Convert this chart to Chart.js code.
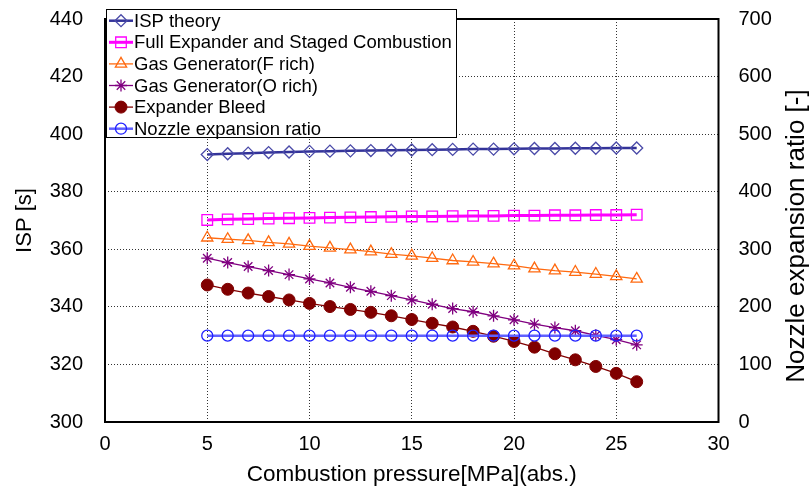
<!DOCTYPE html>
<html>
<head>
<meta charset="utf-8">
<script src="https://cdn.jsdelivr.net/npm/chart.js@4/dist/chart.umd.min.js"></script>
<style>
  html, body { margin: 0; padding: 0; background: #fff; }
  #wrap { width: 811px; height: 493px; }
</style>
</head>
<body>
<div id="wrap"><canvas id="myChart"></canvas></div>
<script>
// combustion pressure [MPa]
var pressure = [5, 6, 7, 8, 9, 10, 11, 12, 13, 14, 15, 16, 17, 18, 19, 20, 21, 22, 23, 24, 25, 26];

// ISP [s]
var ispTheory = [392.9, 393.2, 393.4, 393.6, 393.8, 394.0, 394.1, 394.2, 394.3, 394.4, 394.5,
                 394.6, 394.7, 394.8, 394.8, 394.9, 395.0, 395.0, 395.1, 395.1, 395.2, 395.2];
var fullExpander = [370.2, 370.4, 370.5, 370.7, 370.8, 370.9, 371.0, 371.1, 371.2, 371.3, 371.4,
                    371.4, 371.5, 371.6, 371.6, 371.7, 371.7, 371.8, 371.8, 371.9, 371.9, 372.0];
var gasGenF = [364.0, 363.5, 363.1, 362.4, 361.9, 361.1, 360.5, 359.9, 359.2, 358.3, 357.7,
               356.9, 356.1, 355.6, 355.0, 354.3, 353.3, 352.6, 352.1, 351.4, 350.6, 349.7];
var gasGenO = [356.9, 355.4, 354.0, 352.6, 351.2, 349.7, 348.3, 346.8, 345.4, 343.9, 342.4,
               340.9, 339.4, 338.3, 336.9, 335.5, 334.0, 332.8, 331.7, 330.1, 328.6, 326.8];
var expanderBleed = [347.6, 346.1, 344.8, 343.6, 342.4, 341.2, 340.1, 339.1, 338.1, 336.9, 335.6,
                     334.3, 333.0, 331.5, 329.8, 328.0, 326.0, 323.7, 321.6, 319.3, 316.9, 314.0];
// nozzle expansion ratio [-] (right axis)
var nozzleRatio = [150, 150, 150, 150, 150, 150, 150, 150, 150, 150, 150,
                   150, 150, 150, 150, 150, 150, 150, 150, 150, 150, 150];

var xTicks = [0, 5, 10, 15, 20, 25, 30];
var yTicks = [300, 320, 340, 360, 380, 400, 420, 440];
var y2Ticks = [0, 100, 200, 300, 400, 500, 600, 700];

function pts(ys) {
  return pressure.map(function (x, i) { return { x: x, y: ys[i] }; });
}

var sans = "'Liberation Sans', Arial, sans-serif";
var tickFont = { family: sans, size: 20 };
var PLOT_TOP = 19;

// pull the plot top up to where the original has it
var fixTop = {
  id: 'fixTop',
  afterLayout: function (chart) {
    var a = chart.chartArea;
    a.top = PLOT_TOP;
    a.height = a.bottom - a.top;
    ['y', 'y2'].forEach(function (id) {
      var s = chart.scales[id];
      s.top = PLOT_TOP;
      s.height = s.bottom - s.top;
      s.configure();
    });
  }
};

// legend drawn inside the plot, like the original
var boxLegend = {
  id: 'boxLegend',
  afterDraw: function (chart) {
    var ctx = chart.ctx;
    var x0 = 106, y0 = 9, w = 350, h = 128;
    ctx.save();
    ctx.fillStyle = '#fff';
    ctx.fillRect(x0, y0, w, h);
    ctx.strokeStyle = '#000';
    ctx.lineWidth = 1;
    ctx.strokeRect(x0 + 0.5, y0 + 0.5, w, h);
    ctx.font = "18.5px " + sans;
    ctx.textBaseline = 'middle';
    chart.data.datasets.forEach(function (ds, i) {
      var y = 20.7 + i * 21.6;
      ctx.strokeStyle = ds.borderColor;
      ctx.lineWidth = ds.borderWidth;
      ctx.beginPath();
      ctx.moveTo(109, y);
      ctx.lineTo(133, y);
      ctx.stroke();
      ctx.strokeStyle = ds.pointBorderColor;
      ctx.fillStyle = ds.pointBackgroundColor;
      ctx.lineWidth = ds.pointBorderWidth;
      Chart.helpers.drawPoint(ctx, { pointStyle: ds.pointStyle, radius: ds.pointRadius, borderWidth: ds.pointBorderWidth, rotation: 0 }, 121, y);
      ctx.fillStyle = '#000';
      ctx.fillText(ds.label, 134, y + 1);
    });

    // right axis title reads bottom to top
    ctx.save();
    ctx.translate(797, 236);
    ctx.rotate(-Math.PI / 2);
    ctx.font = "26px " + sans;
    ctx.textAlign = 'center';
    ctx.textBaseline = 'middle';
    ctx.fillStyle = '#000';
    ctx.fillText('Nozzle expansion ratio [-]', 0, 0);
    ctx.restore();
    ctx.restore();
  }
};

// black frame round the plot area
var frame = {
  id: 'frame',
  beforeDatasetsDraw: function (chart) {
    var a = chart.chartArea, ctx = chart.ctx;
    ctx.save();
    ctx.strokeStyle = '#000';
    ctx.lineWidth = 2;
    ctx.strokeRect(a.left, a.top, a.right - a.left, a.bottom - a.top);
    ctx.restore();
  }
};

var ctx = document.getElementById('myChart').getContext('2d');
var myChart = new Chart(ctx, {
  type: 'line',
  data: {
    datasets: [{
      label: 'ISP theory',
      data: pts(ispTheory),
      yAxisID: 'y',
      borderColor: '#333399',
      borderWidth: 2.5,
      pointStyle: 'rectRot',
      pointRadius: 6,
      pointBorderColor: '#4a4aa8',
      pointBackgroundColor: 'rgba(0,0,0,0)',
      pointBorderWidth: 1.3,
      order: 1
    }, {
      label: 'Full Expander and Staged Combustion',
      data: pts(fullExpander),
      yAxisID: 'y',
      borderColor: '#ff00ff',
      borderWidth: 3,
      pointStyle: 'rect',
      pointRadius: 7.5,
      pointBorderColor: '#ff00ff',
      pointBackgroundColor: 'rgba(0,0,0,0)',
      pointBorderWidth: 1.3,
      order: 1
    }, {
      label: 'Gas Generator(F rich)',
      data: pts(gasGenF),
      yAxisID: 'y',
      borderColor: '#ff6a10',
      borderWidth: 1.3,
      pointStyle: 'triangle',
      pointRadius: 6.5,
      pointBorderColor: '#ff6a10',
      pointBackgroundColor: 'rgba(0,0,0,0)',
      pointBorderWidth: 1.3,
      order: 1
    }, {
      label: 'Gas Generator(O rich)',
      data: pts(gasGenO),
      yAxisID: 'y',
      borderColor: '#800080',
      borderWidth: 1.3,
      pointStyle: 'star',
      pointRadius: 6,
      pointBorderColor: '#800080',
      pointBackgroundColor: '#800080',
      pointBorderWidth: 1.3,
      order: 1
    }, {
      label: 'Expander Bleed',
      data: pts(expanderBleed),
      yAxisID: 'y',
      borderColor: '#800000',
      borderWidth: 1.3,
      pointStyle: 'circle',
      pointRadius: 6,
      pointBorderColor: '#800000',
      pointBackgroundColor: '#800000',
      pointBorderWidth: 1,
      order: 1
    }, {
      label: 'Nozzle expansion ratio',
      data: pts(nozzleRatio),
      yAxisID: 'y2',
      borderColor: '#6060ff',
      borderWidth: 2.5,
      pointStyle: 'circle',
      pointRadius: 5.5,
      pointBorderColor: '#2020ff',
      pointBackgroundColor: 'rgba(0,0,0,0)',
      pointBorderWidth: 1.3,
      order: 0
    }]
  },
  options: {
    responsive: true,
    maintainAspectRatio: false,
    animation: false,
    layout: { padding: { top: 5, left: 0, right: 0, bottom: 0 } },
    plugins: {
      legend: { display: false },
      tooltip: { enabled: false }
    },
    scales: {
      x: {
        type: 'linear',
        min: 0, max: 30,
        afterBuildTicks: function (s) { s.ticks = xTicks.map(function (v) { return { value: v }; }); },
        afterFit: function (s) { s.height = 71; },
        grid: { color: '#333', lineWidth: 1, drawTicks: false },
        border: { display: false, dash: [1, 2] },
        ticks: { color: '#000', padding: 10, font: { family: sans, size: 20 } },
        title: {
          display: true, text: 'Combustion pressure[MPa](abs.)', color: '#000',
          font: { family: sans, size: 22.5 }, padding: { top: 0, bottom: 5 }
        }
      },
      y: {
        position: 'left',
        min: 300, max: 440,
        afterBuildTicks: function (s) { s.ticks = yTicks.map(function (v) { return { value: v }; }); },
        afterFit: function (s) { s.width = 105; },
        grid: { color: '#333', lineWidth: 1, drawTicks: false },
        border: { display: false, dash: [1, 2] },
        ticks: { color: '#000', padding: 22, font: tickFont },
        title: {
          display: true, text: 'ISP [s]', color: '#000',
          font: { family: sans, size: 22 }, padding: { top: 12, bottom: 0 }
        }
      },
      y2: {
        position: 'right',
        min: 0, max: 700,
        afterBuildTicks: function (s) { s.ticks = y2Ticks.map(function (v) { return { value: v }; }); },
        afterFit: function (s) { s.width = 92.5; },
        grid: { display: false, drawTicks: false },
        border: { display: false },
        ticks: { color: '#000', padding: 20, font: tickFont },
        title: { display: false }
      }
    }
  },
  plugins: [fixTop, frame, boxLegend]
});
</script>
</body>
</html>
